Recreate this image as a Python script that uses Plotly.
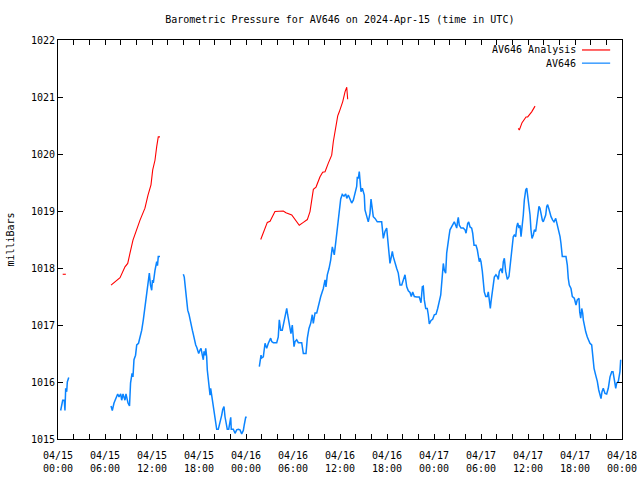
import pandas as pd
import plotly.graph_objects as go

# ---------------- data (hours since 2024-04-15 00:00 UTC, pressure in mbar) ----------------
start = pd.Timestamp("2024-04-15 00:00")

an1_h = [0.60, 1.00]
an1_p = [1017.89, 1017.89]

an2_h = [6.77, 7.92, 8.55, 8.90, 9.19, 9.57, 10.47, 11.10, 11.49, 11.87, 12.09, 12.38, 12.60, 12.80, 13.02]
an2_p = [1017.70, 1017.83, 1018.02, 1018.08, 1018.26, 1018.49, 1018.84, 1019.05, 1019.28, 1019.46,
         1019.72, 1019.89, 1020.13, 1020.30, 1020.30]

an3_h = [25.88, 26.30, 26.72, 27.07, 27.70, 28.76, 29.10, 29.84, 30.26, 30.80, 31.32, 31.83, 32.17,
         32.60, 32.94, 33.45, 33.79, 34.09, 34.51, 34.94, 35.15, 35.45, 35.71, 35.91, 36.35, 36.64,
         36.86, 36.98]
an3_p = [1018.50, 1018.64, 1018.80, 1018.82, 1018.99, 1019.00, 1018.97, 1018.93, 1018.85, 1018.75,
         1018.80, 1018.85, 1018.99, 1019.38, 1019.42, 1019.60, 1019.68, 1019.69, 1019.84, 1019.98,
         1020.22, 1020.48, 1020.67, 1020.74, 1020.92, 1021.09, 1021.17, 1020.96]

an4_h = [58.76, 58.89, 59.24, 59.75, 59.96, 60.47, 60.90]
an4_p = [1020.45, 1020.42, 1020.55, 1020.65, 1020.65, 1020.74, 1020.84]

ob1_h = [0.34, 0.47, 0.60, 0.80, 0.89, 0.98, 1.11, 1.19, 1.37]
ob1_p = [1015.50, 1015.64, 1015.68, 1015.68, 1015.50, 1015.89, 1015.83, 1016.00, 1016.08]

ob2_h = [6.77, 6.93, 7.15, 7.40, 7.62, 7.79, 8.00, 8.13, 8.30, 8.55, 8.68, 8.94, 9.13, 9.26, 9.45,
         9.57, 9.70, 9.90, 10.05, 10.28, 10.47, 10.69, 10.89, 11.10, 11.32, 11.53, 11.66, 11.81,
         11.96, 12.06, 12.17, 12.38, 12.60, 12.70, 12.80, 13.02]
ob2_p = [1015.58, 1015.50, 1015.63, 1015.71, 1015.79, 1015.74, 1015.79, 1015.68, 1015.79, 1015.68,
         1015.79, 1015.63, 1015.58, 1015.98, 1016.15, 1016.09, 1016.39, 1016.47, 1016.65, 1016.68,
         1016.79, 1016.91, 1017.09, 1017.32, 1017.50, 1017.76, 1017.91, 1017.70, 1017.61, 1017.79,
         1017.74, 1017.96, 1018.11, 1018.04, 1018.20, 1018.20]

ob3_h = [16.00, 16.12, 16.30, 16.43, 16.56, 16.72, 16.85, 16.98, 17.15, 17.27, 17.40, 17.58, 17.71,
         17.83, 17.96, 18.13, 18.26, 18.42, 18.55, 18.64, 18.77, 18.86, 18.98, 19.06, 19.19, 19.32,
         19.41, 19.49, 19.62, 19.75, 19.88, 20.04, 20.26, 20.46, 20.68, 20.90, 21.03, 21.19, 21.32,
         21.45, 21.61, 21.79, 21.96, 22.05, 22.12, 22.38, 22.60, 22.81, 23.02, 23.23, 23.45, 23.66,
         23.78, 23.96, 24.09]
ob3_p = [1017.89, 1017.84, 1017.60, 1017.38, 1017.26, 1017.19, 1017.12, 1017.03, 1016.91, 1016.84,
         1016.74, 1016.65, 1016.61, 1016.55, 1016.50, 1016.56, 1016.59, 1016.47, 1016.39, 1016.54,
         1016.47, 1016.59, 1016.44, 1016.21, 1016.01, 1015.86, 1015.77, 1015.89, 1015.77, 1015.60,
         1015.45, 1015.30, 1015.17, 1015.17, 1015.28, 1015.42, 1015.52, 1015.57, 1015.39, 1015.28,
         1015.17, 1015.17, 1015.33, 1015.38, 1015.17, 1015.17, 1015.10, 1015.16, 1015.17, 1015.16,
         1015.09, 1015.15, 1015.25, 1015.38, 1015.38]

ob4_h = [25.70, 25.79, 25.92, 26.00, 26.21, 26.43, 26.64, 26.85, 27.15, 27.28, 27.49, 27.92, 28.12,
         28.25, 28.43, 28.63, 28.76, 28.89, 29.07, 29.20, 29.32, 29.53, 29.74, 29.91, 30.13, 30.26,
         30.47, 30.68, 31.11, 31.32, 31.66, 31.83, 32.04, 32.26, 32.46, 32.59, 32.81, 33.03, 33.23,
         33.54, 33.87, 34.09, 34.21, 34.38, 34.60, 34.81, 35.02, 35.14, 35.27, 35.49, 35.66, 35.78,
         35.91, 36.09, 36.29, 36.51, 36.73, 36.86, 37.06, 37.28, 37.49, 37.70, 37.91, 38.13, 38.21,
         38.34, 38.46, 38.55, 38.68, 38.85, 38.98, 39.10, 39.19, 39.41, 39.61, 39.83, 39.96, 40.25,
         40.47, 40.76, 41.32, 41.53, 41.74, 41.96, 42.09, 42.26, 42.38, 42.51, 42.68, 42.80, 43.02,
         43.24, 43.44, 43.66, 43.88, 44.08, 44.30, 44.52, 44.72, 44.94, 45.10, 45.28, 45.49, 45.79,
         46.12, 46.34, 46.51, 46.63, 46.76, 46.94, 47.14, 47.27, 47.40, 47.62, 47.83, 48.04, 48.26,
         48.47, 48.68, 48.86, 48.98, 49.11, 49.19, 49.32, 49.49, 49.62, 49.75, 49.91, 50.04, 50.17,
         50.34, 50.46, 50.59, 50.77, 50.90, 51.03, 51.10, 51.23, 51.45, 51.74, 51.96, 52.09, 52.17,
         52.30, 52.43, 52.60, 52.81, 52.94, 53.11, 53.36, 53.53, 53.66, 53.78, 53.87, 54.00, 54.17,
         54.29, 54.42, 54.60, 54.80, 54.93, 55.06, 55.19, 55.28, 55.44, 55.57, 55.70, 55.91, 56.08,
         56.21, 56.34, 56.55, 56.72, 56.85, 56.98, 57.15, 57.36, 57.57, 57.70, 57.83, 58.00, 58.12,
         58.25, 58.43, 58.56, 58.69, 58.85, 58.98, 59.11, 59.27, 59.40, 59.53, 59.71, 59.84, 59.96,
         60.13, 60.26, 60.38, 60.51, 60.68, 60.81, 60.98, 61.11, 61.24, 61.40, 61.53, 61.66, 61.83,
         61.95, 62.08, 62.26, 62.39, 62.51, 62.68, 62.81, 62.94, 63.15, 63.32, 63.54, 63.66, 63.79,
         63.96, 64.09, 64.21, 64.30, 64.38, 64.85, 65.02, 65.14, 65.27, 65.49, 65.66, 65.91, 66.13,
         66.29, 66.51, 66.60, 66.73, 66.86, 66.98, 67.06, 67.19, 67.37, 67.57, 67.75, 67.91, 68.13,
         68.26, 68.43, 68.64, 68.85, 69.03, 69.19, 69.32, 69.45, 69.61, 69.83, 70.04, 70.25, 70.47,
         70.69, 70.85, 71.02, 71.20, 71.32, 71.53, 71.74, 71.83]
ob4_p = [1016.27, 1016.39, 1016.47, 1016.42, 1016.44, 1016.68, 1016.59, 1016.68, 1016.77, 1016.71,
         1016.69, 1016.69, 1016.79, 1017.09, 1016.91, 1016.91, 1017.00, 1017.03, 1017.21, 1017.29,
         1017.18, 1017.03, 1016.85, 1017.00, 1016.62, 1016.71, 1016.74, 1016.69, 1016.69, 1016.50,
         1016.50, 1016.77, 1016.94, 1017.03, 1017.18, 1017.03, 1017.21, 1017.21, 1017.35, 1017.50,
         1017.64, 1017.79, 1017.67, 1017.88, 1017.99, 1018.14, 1018.37, 1018.32, 1018.23, 1018.49,
         1018.70, 1018.81, 1018.90, 1019.21, 1019.29, 1019.26, 1019.30, 1019.22, 1019.28, 1019.21,
         1019.14, 1019.19, 1019.30, 1019.43, 1019.60, 1019.57, 1019.69, 1019.54, 1019.34, 1019.40,
         1019.31, 1019.28, 1019.02, 1018.90, 1018.81, 1018.96, 1019.21, 1018.90, 1018.87, 1018.81,
         1018.81, 1018.52, 1018.64, 1018.70, 1018.49, 1018.29, 1018.08, 1018.17, 1018.29, 1018.20,
         1018.08, 1017.99, 1017.91, 1017.70, 1017.70, 1017.80, 1017.88, 1017.67, 1017.60, 1017.57,
         1017.50, 1017.58, 1017.50, 1017.49, 1017.49, 1017.39, 1017.67, 1017.68, 1017.44, 1017.29,
         1017.29, 1017.18, 1017.02, 1017.08, 1017.10, 1017.18, 1017.19, 1017.29, 1017.41, 1017.53,
         1017.73, 1017.88, 1018.08, 1017.96, 1017.91, 1018.26, 1018.43, 1018.55, 1018.67, 1018.70,
         1018.75, 1018.78, 1018.81, 1018.75, 1018.70, 1018.84, 1018.89, 1018.75, 1018.70, 1018.70,
         1018.67, 1018.61, 1018.70, 1018.78, 1018.81, 1018.72, 1018.70, 1018.61, 1018.40, 1018.40,
         1018.32, 1018.17, 1018.11, 1018.17, 1018.11, 1017.94, 1017.79, 1017.58, 1017.50, 1017.50,
         1017.58, 1017.44, 1017.29, 1017.41, 1017.58, 1017.73, 1017.84, 1017.88, 1017.85, 1017.80,
         1017.94, 1017.99, 1017.91, 1018.11, 1018.17, 1017.94, 1017.80, 1017.85, 1017.99, 1018.20,
         1018.40, 1018.55, 1018.58, 1018.55, 1018.72, 1018.79, 1018.70, 1018.75, 1018.55, 1018.72,
         1018.93, 1019.19, 1019.37, 1019.40, 1019.25, 1019.14, 1018.93, 1018.67, 1018.52, 1018.58,
         1018.67, 1018.64, 1018.81, 1018.96, 1019.08, 1019.05, 1018.93, 1018.84, 1018.81, 1018.87,
         1018.93, 1019.08, 1019.11, 1019.03, 1018.96, 1018.90, 1018.84, 1018.81, 1018.87, 1018.81,
         1018.72, 1018.64, 1018.55, 1018.43, 1018.26, 1018.20, 1018.20, 1018.05, 1017.82, 1017.70,
         1017.64, 1017.50, 1017.47, 1017.35, 1017.44, 1017.47, 1017.23, 1017.12, 1017.29, 1017.21,
         1017.09, 1016.97, 1016.88, 1016.79, 1016.71, 1016.68, 1016.65, 1016.39, 1016.24, 1016.12,
         1016.01, 1015.86, 1015.74, 1015.71, 1015.83, 1015.89, 1015.80, 1015.79, 1015.89, 1016.09,
         1016.18, 1016.18, 1016.04, 1015.89, 1015.98, 1016.01, 1016.18, 1016.39]

analysis_segments = [(an1_h, an1_p), (an2_h, an2_p), (an3_h, an3_p), (an4_h, an4_p)]
obs_segments = [(ob1_h, ob1_p), (ob2_h, ob2_p), (ob3_h, ob3_p), (ob4_h, ob4_p)]

tick_hours = [0, 6, 12, 18, 24, 30, 36, 42, 48, 54, 60, 66, 72]
tick_labels = ["04/15<br>00:00", "04/15<br>06:00", "04/15<br>12:00", "04/15<br>18:00",
               "04/16<br>00:00", "04/16<br>06:00", "04/16<br>12:00", "04/16<br>18:00",
               "04/17<br>00:00", "04/17<br>06:00", "04/17<br>12:00", "04/17<br>18:00",
               "04/18<br>00:00"]
y_ticks = [1015, 1016, 1017, 1018, 1019, 1020, 1021, 1022]

title_text = "Barometric Pressure for AV646 on 2024-Apr-15 (time in UTC)"
name_analysis = "AV646 Analysis"
name_obs = "AV646"
color_analysis = "#ff0000"
color_obs = "#0a84ff"


def to_time(hours):
    return [start + pd.Timedelta(hours=h) for h in hours]


def join(segments):
    xs, ys = [], []
    for h, p in segments:
        if xs:
            xs.append(None)
            ys.append(None)
        xs.extend(to_time(h))
        ys.extend(p)
    return xs, ys


FONT = "DejaVu Sans Mono, monospace"

fig = go.Figure()
xa, ya = join(analysis_segments)
xo, yo = join(obs_segments)
fig.add_trace(go.Scatter(x=xa, y=ya, mode="lines", name=name_analysis,
                         line=dict(color=color_analysis, width=1.1), showlegend=False,
                         connectgaps=False))
fig.add_trace(go.Scatter(x=xo, y=yo, mode="lines", name=name_obs,
                         line=dict(color=color_obs, width=1.5), showlegend=False,
                         connectgaps=False))

# custom legend (text left of the sample line, as in the reference)
legend_rows = [(name_analysis, color_analysis, 0.975), (name_obs, color_obs, 0.942)]
for name, col, yp in legend_rows:
    fig.add_annotation(x=0.922, y=yp, xref="paper", yref="paper", text=name,
                       showarrow=False, xanchor="right", yanchor="middle",
                       font=dict(family=FONT, size=10, color="black"))
    fig.add_shape(type="line", xref="paper", yref="paper", x0=0.929, x1=0.979,
                  y0=yp, y1=yp, line=dict(color=col, width=1.2))

fig.update_layout(
    width=640, height=480,
    margin=dict(l=58, r=18, t=40, b=41, autoexpand=False),
    paper_bgcolor="white", plot_bgcolor="white",
    font=dict(family=FONT, size=10, color="black"),
    title=dict(text=title_text, x=0.531, xanchor="center", y=0.96, yanchor="middle",
               font=dict(family=FONT, size=10, color="black")),
    showlegend=False,
)
fig.update_xaxes(
    range=[start, start + pd.Timedelta(hours=72)],
    tickvals=to_time(tick_hours), ticktext=tick_labels,
    ticks="inside", ticklen=5, tickcolor="black", tickwidth=1,
    showline=True, linecolor="black", linewidth=1, mirror="ticks",
    showgrid=False, zeroline=False,
    minor=dict(tickvals=to_time(list(range(0, 73, 2))), ticks="inside", ticklen=5,
               tickcolor="black", showgrid=False),
    tickfont=dict(family=FONT, size=10, color="black"),
    ticklabelstandoff=7,
)
fig.update_yaxes(
    range=[1015, 1022], tickvals=y_ticks,
    ticks="inside", ticklen=5, tickcolor="black", tickwidth=1,
    showline=True, linecolor="black", linewidth=1, mirror="ticks",
    showgrid=False, zeroline=False,
    title=dict(text="milliBars", font=dict(family=FONT, size=10, color="black"), standoff=14),
    tickfont=dict(family=FONT, size=10, color="black"),
)

fig.write_html("out.html",
               config={"displayModeBar": False},
               post_script="document.body.style.margin='0';document.body.style.overflow='hidden';")
